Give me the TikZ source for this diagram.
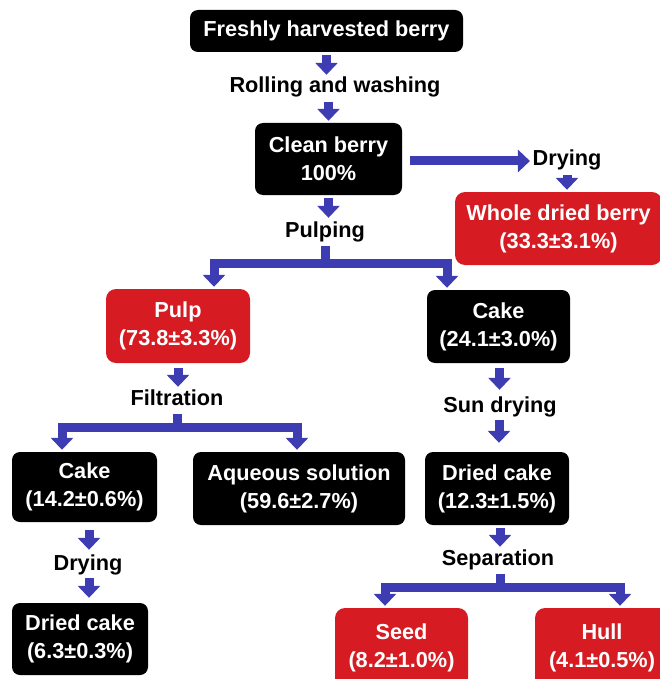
\documentclass[tikz,border=0pt]{standalone}
\usepackage{fontspec}
\setmainfont{Liberation Sans}
\usetikzlibrary{arrows.meta}
\definecolor{flowblue}{RGB}{62,60,178}
\definecolor{boxred}{RGB}{214,28,34}
\tikzset{
  box/.style={rounded corners=8pt, fill=black, text=white, align=center, inner sep=0pt, font=\bfseries\fontsize{21.7}{28}\selectfont},
  redbox/.style={box, fill=boxred, rounded corners=10pt},
  steplabel/.style={inner sep=1pt, text height=15pt, text depth=5pt, font=\bfseries\fontsize{21.7}{26}\selectfont},
  flow/.style={draw=flowblue, line width=9pt, line join=miter, -{Triangle[width=22pt,length=12pt]}, shorten <=3pt, shorten >=2pt}
}
\begin{document}
\begin{tikzpicture}[x=1pt,y=-1pt]
\useasboundingbox (0,0) rectangle (660,679);
\clip (0,0) rectangle (660,679);
\node[box, minimum width=273pt, minimum height=42pt] (fresh) at (326.5,31) {Freshly harvested berry};
\node[steplabel] (roll) at (335,88) {Rolling and washing};
\node[box, minimum width=147pt, minimum height=72pt] (clean) at (328.5,159) {Clean berry\\100\%};
\node[steplabel] (dry1) at (567,161) {Drying};
\node[redbox, minimum width=207pt, minimum height=73pt] (whole) at (558.5,228.5) {Whole dried berry\\(33.3±3.1\%)};
\node[steplabel] (pulping) at (325,232) {Pulping};
\node[redbox, minimum width=144pt, minimum height=74pt] (pulp) at (178,326) {Pulp\\(73.8±3.3\%)};
\node[box, minimum width=143pt, minimum height=73pt] (cakeR) at (498.5,326.5) {Cake\\(24.1±3.0\%)};
\node[steplabel] (filt) at (177,400) {Filtration};
\node[steplabel] (sun) at (500,407) {Sun drying};
\node[box, minimum width=145pt, minimum height=70pt] (cakeL) at (84.5,487) {Cake\\(14.2±0.6\%)};
\node[box, minimum width=212pt, minimum height=73pt] (aqueous) at (299,488.5) {Aqueous solution\\(59.6±2.7\%)};
\node[box, minimum width=144pt, minimum height=73pt] (driedR) at (497,488.5) {Dried cake\\(12.3±1.5\%)};
\node[steplabel] (dry2) at (88,565) {Drying};
\node[steplabel] (sep) at (498,560) {Separation};
\node[box, minimum width=136pt, minimum height=72pt] (driedL) at (80,639) {Dried cake\\(6.3±0.3\%)};
\node[redbox, minimum width=133pt, minimum height=80pt] (seed) at (401.5,648) {Seed\\(8.2±1.0\%)};
\node[redbox, minimum width=134pt, minimum height=80pt] (hull) at (602,648) {Hull\\(4.1±0.5\%)};
\coordinate (pjL) at (214,263);
\coordinate (pjR) at (447,263);
\coordinate (fjL) at (62,427);
\coordinate (fjR) at (297,427);
\coordinate (sjL) at (385,587);
\coordinate (sjR) at (620,587);
\draw[flow] (fresh.south) -- (fresh.south |- roll.north);
\draw[flow] (clean.north |- roll.south) -- (clean.north);
\draw[flow, shorten >=3pt] (clean.south) -- (clean.south |- pulping.north);
\draw[flow, shorten <=8pt, shorten >=1.5pt] (clean.east |- dry1.west) -- (dry1.west);
\draw[flow] (dry1.south) -- (dry1.south |- whole.north);
\draw[flow] (pulping.south) |- (pjL) -- (pjL |- pulp.north);
\draw[flow] (pulping.south) |- (pjR) -- (pjR |- cakeR.north);
\draw[flow, shorten <=5pt] (pulp.south) -- (pulp.south |- filt.north);
\draw[flow] (filt.south) |- (fjL) -- (fjL |- cakeL.north);
\draw[flow] (filt.south) |- (fjR) -- (fjR |- aqueous.north);
\draw[flow, shorten <=5pt, shorten >=6pt] ([xshift=1pt]cakeR.south) -- ([xshift=1pt]cakeR.south |- sun.north);
\draw[flow, shorten <=2pt, shorten >=9pt] ([xshift=2pt]driedR.north |- sun.south) -- ([xshift=2pt]driedR.north);
\draw[flow] ([xshift=3pt]driedR.south) -- ([xshift=3pt]driedR.south |- sep.north);
\draw[flow] ([xshift=2pt]sep.south) |- (sjL) -- (sjL |- seed.north);
\draw[flow] ([xshift=2pt]sep.south) |- (sjR) -- (sjR |- hull.north);
\draw[flow, shorten <=8pt, shorten >=4pt] ([xshift=4.5pt]cakeL.south) -- ([xshift=4.5pt]cakeL.south |- dry2.north);
\draw[flow, shorten <=2pt, shorten >=5pt] ([xshift=9pt]driedL.north |- dry2.south) -- ([xshift=9pt]driedL.north);
\end{tikzpicture}
\end{document}
